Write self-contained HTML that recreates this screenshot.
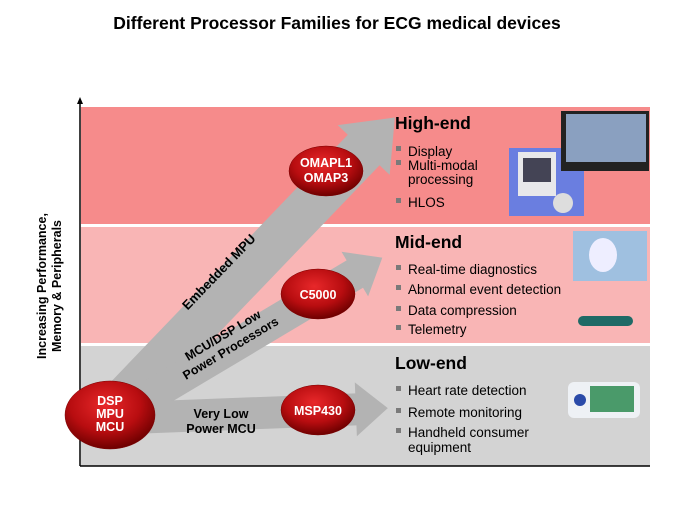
<!DOCTYPE html>
<html><head><style>body{margin:0;background:#fff}svg{display:block}</style></head><body>
<svg width="674" height="506" viewBox="0 0 674 506" xmlns="http://www.w3.org/2000/svg" font-family="Liberation Sans, Arial, sans-serif">
<defs>
<radialGradient id="rg" cx="45%" cy="35%" r="65%"><stop offset="0" stop-color="#e8282a"/><stop offset="0.6" stop-color="#b80d10"/><stop offset="1" stop-color="#6e0000"/></radialGradient>
</defs>
<text x="337" y="29" text-anchor="middle" font-size="17.5" font-weight="bold" fill="#000">Different Processor Families for ECG medical devices</text>
<rect x="81" y="107" width="569" height="117" fill="#f68b8b"/>
<rect x="81" y="227" width="569" height="116" fill="#f9b5b5"/>
<rect x="81" y="346" width="569" height="120" fill="#d3d3d3"/>
<line x1="80" y1="102" x2="80" y2="466" stroke="#000" stroke-width="1.5"/>
<polygon points="77,104 83,104 80,97" fill="#000"/>
<line x1="80" y1="466" x2="650" y2="466" stroke="#000" stroke-width="1.5"/>
<g transform="translate(58,286) rotate(-90)" font-size="12.5" font-weight="bold" text-anchor="middle"><text y="-12">Increasing Performance,</text><text y="3">Memory &amp; Peripherals</text></g>
<g fill="#b3b3b3">
<polygon transform="translate(100,425) rotate(-46.2)" points="0,-22 381,-22 381,-36 426,0 381,36 381,22 0,22"/>
<polygon transform="translate(110,420) rotate(-30.8)" points="0,-16 285,-16 285,-26 317,0 285,26 285,16 0,16"/>
<polygon transform="translate(130,418) rotate(-2.2)" points="0,-16 226,-16 226,-27 258,0 226,27 226,16 0,16"/>
</g>
<g font-weight="bold" font-size="13" fill="#000" text-anchor="middle">
<text transform="translate(222,275) rotate(-46)">Embedded MPU</text>
<text transform="translate(225,339) rotate(-31)" font-size="12.5"><tspan x="0" y="0">MCU/DSP Low</tspan><tspan x="0" y="15">Power Processors</tspan></text>
<text x="221" y="418" font-size="12.5">Very Low</text>
<text x="221" y="433" font-size="12.5">Power MCU</text>
</g>
<g fill="url(#rg)" stroke="#7a0000" stroke-width="0.5">
<ellipse cx="110" cy="415" rx="45" ry="34"/>
<ellipse cx="326" cy="171" rx="37" ry="25"/>
<ellipse cx="318" cy="294" rx="37" ry="25"/>
<ellipse cx="318" cy="410" rx="37" ry="25"/>
</g>
<g fill="#fff" font-weight="bold" text-anchor="middle" font-size="12.5">
<text x="110" y="405">DSP</text><text x="110" y="418">MPU</text><text x="110" y="431">MCU</text>
<text x="326" y="167">OMAPL1</text><text x="326" y="182">OMAP3</text>
<text x="318" y="299">C5000</text>
<text x="318" y="415">MSP430</text>
</g>
<g font-size="13.5" fill="#000">
<text x="395" y="129" font-size="17.5" font-weight="bold">High-end</text>
<text x="408" y="156">Display</text><text x="408" y="170">Multi-modal</text><text x="408" y="184">processing</text><text x="408" y="207">HLOS</text>
<text x="395" y="248" font-size="17.5" font-weight="bold">Mid-end</text>
<text x="408" y="274">Real-time diagnostics</text><text x="408" y="294">Abnormal  event detection</text><text x="408" y="315">Data compression</text><text x="408" y="334">Telemetry</text>
<text x="395" y="369" font-size="17.5" font-weight="bold">Low-end</text>
<text x="408" y="395">Heart rate detection</text><text x="408" y="417">Remote monitoring</text><text x="408" y="437">Handheld  consumer</text><text x="408" y="452">equipment</text>
</g>
<g fill="#7a7a7a">
<rect x="396" y="146" width="5" height="5"/><rect x="396" y="160" width="5" height="5"/><rect x="396" y="198" width="5" height="5"/>
<rect x="396" y="265" width="5" height="5"/><rect x="396" y="285" width="5" height="5"/><rect x="396" y="306" width="5" height="5"/><rect x="396" y="325" width="5" height="5"/>
<rect x="396" y="386" width="5" height="5"/><rect x="396" y="408" width="5" height="5"/><rect x="396" y="428" width="5" height="5"/>
</g>
<rect x="509" y="148" width="75" height="68" fill="#6a7ee0"/>
<rect x="518" y="152" width="38" height="44" fill="#e8e8ea"/>
<rect x="523" y="158" width="28" height="24" fill="#445"/>
<circle cx="563" cy="203" r="10" fill="#ddd"/>
<rect x="561" y="111" width="88" height="60" fill="#222"/>
<rect x="566" y="114" width="80" height="48" fill="#8aa0c0"/>
<rect x="573" y="231" width="74" height="50" fill="#9fc0e0"/>
<ellipse cx="603" cy="255" rx="14" ry="17" fill="#eef"/>
<rect x="578" y="316" width="55" height="10" rx="5" fill="#1f6a66"/>
<rect x="568" y="382" width="72" height="36" rx="6" fill="#eef1f5"/>
<rect x="590" y="386" width="44" height="26" fill="#4a9a6a"/>
<circle cx="580" cy="400" r="6" fill="#2a4aa8"/>
</svg>
</body></html>
